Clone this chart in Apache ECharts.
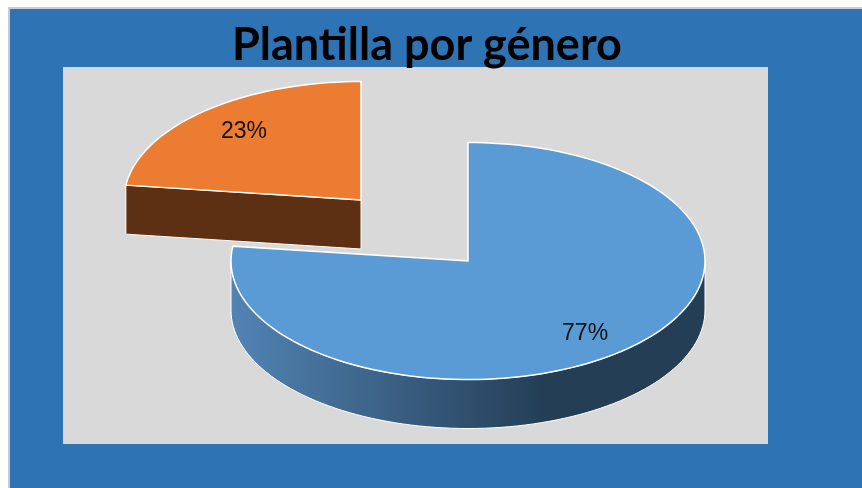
<!DOCTYPE html>
<html>
<head>
<meta charset="utf-8">
<style>
    html, body { margin: 0; padding: 0; background: #fff; }
    #pieChart { width: 862px; height: 488px; }
</style>
<script src="https://cdn.jsdelivr.net/npm/echarts@6/dist/echarts.min.js"></script>
</head>
<body>
<div id="pieChart"></div>
<script>
// datos
var titleText = 'Plantilla por género';
var sliceNames = ['Grupo 1', 'Grupo 2'];
var sliceValues = [77, 23];
var topColors = ['#5B9BD5', '#EC7C31'];

// geometria del pastel
var centerX = 468, centerY = 261;
var radiusX = 237, radiusY = 118.5;
var depth = 49;
var explodeIndex = 1, explodeX = -107, explodeY = -61;
var labelRadiusX = 0.747, labelRadiusY = 0.793, labelShiftY = 2;
var total = sliceValues.reduce(function (a, b) { return a + b; }, 0);

// angulo en grados, 0 arriba y sentido horario
function ellipsePoint(cx, cy, deg, kx, ky) {
    var rad = deg * Math.PI / 180;
    return [cx + radiusX * kx * Math.sin(rad), cy - radiusY * ky * Math.cos(rad)];
}

function arcPoints(cx, cy, from, to) {
    var points = [];
    var steps = Math.max(2, Math.ceil((to - from) / 2));
    for (var i = 0; i <= steps; i++) {
        points.push(ellipsePoint(cx, cy, from + (to - from) * i / steps, 1, 1));
    }
    return points;
}

function sideFill(index) {
    if (index === explodeIndex) {
        return '#5E3013';
    }
    return new echarts.graphic.LinearGradient(0, 0, 1, 0, [
        { offset: 0, color: '#5284B4' },
        { offset: 0.66, color: '#243E56' },
        { offset: 1, color: '#243E56' }
    ]);
}

function renderSlice(params, api) {
    var index = params.dataIndex;
    var value = api.value(0);
    var before = 0;
    for (var i = 0; i < index; i++) {
        before += sliceValues[i];
    }
    var start = before / total * 360;
    var end = start + value / total * 360;
    var cx = centerX + (index === explodeIndex ? explodeX : 0);
    var cy = centerY + (index === explodeIndex ? explodeY : 0);
    var children = [];

    // pared exterior, solo la parte que mira al frente
    var wallFrom = Math.max(start, 90), wallTo = Math.min(end, 270);
    if (wallTo > wallFrom) {
        var upper = arcPoints(cx, cy, wallFrom, wallTo);
        var lower = upper.map(function (p) { return [p[0], p[1] + depth]; }).reverse();
        children.push({
            type: 'polygon',
            shape: { points: upper.concat(lower) },
            style: { fill: sideFill(index), stroke: '#fff', lineWidth: 1 }
        });
    }
    // pared del corte
    if (start > 180 && start < 360) {
        var edge = ellipsePoint(cx, cy, start, 1, 1);
        children.push({
            type: 'polygon',
            shape: { points: [edge, [cx, cy], [cx, cy + depth], [edge[0], edge[1] + depth]] },
            style: { fill: sideFill(index), stroke: '#fff', lineWidth: 1 }
        });
    }
    // cara superior
    children.push({
        type: 'polygon',
        shape: { points: [[cx, cy]].concat(arcPoints(cx, cy, start, end)) },
        style: { fill: topColors[index], stroke: '#fff', lineWidth: 1.5 }
    });
    // etiqueta
    var labelAt = ellipsePoint(cx, cy, (start + end) / 2, labelRadiusX, labelRadiusY);
    children.push({
        type: 'text',
        style: {
            x: labelAt[0],
            y: labelAt[1] + labelShiftY,
            text: Math.round(value / total * 100) + '%',
            fill: '#111',
            font: '23px "Liberation Sans"',
            align: 'center',
            verticalAlign: 'middle'
        }
    });
    return { type: 'group', children: children };
}

var myChart = echarts.init(document.getElementById('pieChart'));
var option = {
    animation: false,
    backgroundColor: '#fff',
    title: {
        text: titleText,
        left: 232,
        top: 23,
        padding: 0,
        textStyle: {
            fontFamily: 'Lato',
            fontWeight: 'bold',
            fontSize: 45,
            color: '#000'
        }
    },
    graphic: [
        {
            type: 'rect',
            z: -2,
            shape: { x: 9, y: 8, width: 860, height: 490 },
            style: { fill: '#2E74B5', stroke: '#CCCCCC', lineWidth: 2 }
        },
        {
            type: 'rect',
            z: -1,
            shape: { x: 63, y: 67, width: 705, height: 377 },
            style: { fill: '#D9D9D9' }
        }
    ],
    series: [{
        type: 'custom',
        coordinateSystem: 'none',
        renderItem: renderSlice,
        data: sliceValues.map(function (v, i) {
            return { name: sliceNames[i], value: [v] };
        })
    }]
};
myChart.setOption(option);
</script>
</body>
</html>
